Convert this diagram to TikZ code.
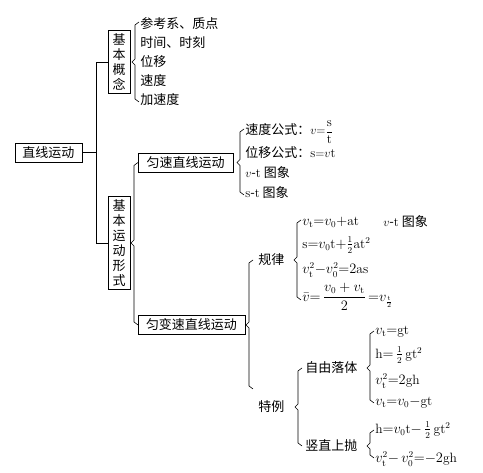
\documentclass[tikz,border=0pt]{standalone}
\usepackage{amsmath}
\usepackage{fontspec}
\newfontfamily\cjk{Noto Sans CJK SC}

\tikzset{
  every node/.style={font=\cjk\fontsize{13}{15}\selectfont, inner sep=0pt},
  hbox/.style={draw, inner sep=3pt, minimum height=19pt},
  vbox/.style={draw, align=center, inner sep=3pt, minimum width=22pt},
  item/.style={anchor=west},
  formula/.style={anchor=west, font=\fontsize{13.5}{15}\selectfont},
}
% bracket: x, top, middle, bottom
\newcommand{\kuohao}[4]{%
  \draw (#1+4,#2) -- (#1,#2+3) -- (#1,#3-3) -- (#1-3,#3) -- (#1,#3+3) -- (#1,#4-3) -- (#1+4,#4);}

\begin{document}
\begin{tikzpicture}[x=1pt, y=-1pt, line width=0.6pt]
        \useasboundingbox (0,0) rectangle (483,473);

        % Main boxes
        \node[hbox, minimum width=67pt] (zxyd) at (48.5,152.5) {直线运动};
        \node[vbox] (jbgn) at (119,62) {基\\本\\概\\念};
        \node[vbox] (jbxs) at (119,243) {基\\本\\运\\动\\形\\式};
        \node[hbox, minimum width=95pt] (ysyd) at (185.5,162.5) {匀速直线运动};
        \node[hbox, minimum width=107pt] (ybsyd) at (191.5,325) {匀变速直线运动};

        % Connectors from the root
        \draw (zxyd.east) -- ++(14,0) |- (jbgn.west);
        \draw (zxyd.east) -- ++(14,0) |- (jbxs.west);

        % Basic concepts
        \kuohao{135}{22}{62}{102}
        \node[item] (ck) at (140,24) {参考系、质点};
        \node[item] (sj) at (140,43) {时间、时刻};
        \node[item] (wy) at (140,62) {位移};
        \node[item] (sd) at (140,81) {速度};
        \node[item] (jsd) at (140,100) {加速度};

        % Basic forms of motion
        \kuohao{134}{162.5}{243}{325}

        % Uniform motion
        \kuohao{240}{129}{162.5}{195}
        \node[item] (sdgs) at (245,132) {速度公式：$v{=}\dfrac{\mathrm s}{\mathrm t}$};
        \node[item] (wygs) at (245,153) {位移公式：$\mathrm s{=}v\mathrm t$};
        \node[item] (vt) at (245,173) {$v$-$\mathrm t$ 图象};
        \node[item] (st) at (245,193) {$\mathrm s$-$\mathrm t$ 图象};

        % Uniformly accelerated motion
        \kuohao{249}{260}{325}{389}
        \node[item] (gl) at (258,260) {规律};
        \node[item] (tl) at (258,407) {特例};

        % Laws
        \kuohao{297}{220}{260}{300}
        \node[formula] (gl1) at (302,222) {$v_{\mathrm t}{=}v_0{+}\mathrm{at}$};
        \node[item] (gl1b) at (383,222) {$v$-$\mathrm t$ 图象};
        \node[formula] (gl2) at (302,245) {$\mathrm s{=}v_0\mathrm t{+}\frac{1}{2}\mathrm{at}^2$};
        \node[formula] (gl3) at (302,270) {$v_{\mathrm t}^2{-}v_0^2{=}2\mathrm{as}$};
        \node[formula] (gl4) at (302,297) {$\bar v{=}\,\dfrac{v_0+v_{\mathrm t}}{2}\,{=}v_{\frac{\mathrm t}{2}}$};

        % Special cases
        \kuohao{298}{368}{407}{446}
        \node[item] (zyl) at (305,368) {自由落体};
        \node[item] (szs) at (305,446) {竖直上抛};

        % Free fall
        \kuohao{370}{331}{368}{403}
        \node[formula] (zy1) at (375,332) {$v_{\mathrm t}{=}\mathrm{gt}$};
        \node[formula] (zy2) at (375,355) {$\mathrm h{=}\,\frac{1}{2}\,\mathrm{gt}^2$};
        \node[formula] (zy3) at (375,381) {$v_{\mathrm t}^2{=}2\mathrm{gh}$};
        \node[formula] (zy4) at (375,403) {$v_{\mathrm t}{=}v_0{-}\mathrm{gt}$};

        % Vertical throw
        \kuohao{370}{430}{446}{458}
        \node[formula] (ss1) at (375,430) {$\mathrm h{=}v_0\mathrm t{-}\,\frac{1}{2}\,\mathrm{gt}^2$};
        \node[formula] (ss2) at (375,459) {$v_{\mathrm t}^2{-}\,v_0^2{=}{-}2\mathrm{gh}$};
\end{tikzpicture}
\end{document}
